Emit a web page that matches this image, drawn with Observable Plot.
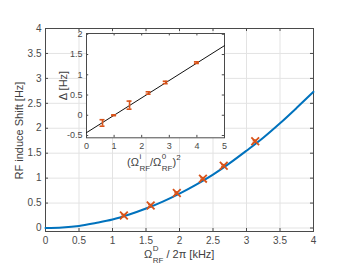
<!DOCTYPE html>
<html><head><meta charset="utf-8">
<script src="https://cdn.jsdelivr.net/npm/d3@7"></script>
<script src="https://cdn.jsdelivr.net/npm/@observablehq/plot@0.6"></script>
<style>
body{margin:0;background:#fff;font-family:"Liberation Sans",Arial,sans-serif;}
#wrap{position:relative;width:354px;height:267px;overflow:hidden;}
#wrap svg{position:absolute;}
.lab{position:absolute;color:#404040;font-size:11px;white-space:nowrap;line-height:1;}
.ss{display:inline-flex;flex-direction:column;vertical-align:middle;font-size:8px;line-height:12px;margin-left:0.5px;}
</style></head>
<body><div id="wrap"></div>
<script>
// Main plot: measured points
const mainX = [1.17, 1.57, 1.96, 2.35, 2.66, 3.13];
const mainY = [0.25, 0.45, 0.70, 0.99, 1.25, 1.74];
const mainErr = [0.02, 0.02, 0.02, 0.02, 0.02, 0.02];
// Main plot: fit curve
const fitX = [0, 0.25, 0.5, 0.75, 1, 1.25, 1.5, 1.75, 2, 2.25, 2.5, 2.75, 3, 3.25, 3.5, 3.75, 4];
const fitY = [0, 0.01, 0.04, 0.1, 0.17, 0.27, 0.39, 0.53, 0.69, 0.87, 1.07, 1.3, 1.55, 1.81, 2.1, 2.41, 2.73];
const mainXTicks = [0, 0.5, 1, 1.5, 2, 2.5, 3, 3.5, 4];
const mainYTicks = [0, 0.5, 1, 1.5, 2, 2.5, 3, 3.5, 4];
// Inset
const insX = [0.58, 1.0, 1.56, 2.25, 2.87, 4.0];
const insY = [-0.19, 0.0, 0.25, 0.55, 0.81, 1.30];
const insErr = [0.08, 0.01, 0.1, 0.03, 0.03, 0.02];
const lineX = [0, 5];
const lineY = [-0.43, 1.72];
const insXTicks = [0, 1, 2, 3, 4, 5];
const insYTicks = [-0.5, 0, 0.5, 1, 1.5, 2];

const orange = "#D95319", blue = "#0072BD", axisC = "#4a4a4a", gridC = "#e3e3e3";
const fmt = d => String(d);

const pts = mainX.map((x, i) => ({x, y: mainY[i], e: mainErr[i]}));
const fit = fitX.map((x, i) => ({x, y: fitY[i]}));
const ipts = insX.map((x, i) => ({x, y: insY[i], e: insErr[i]}));
const line = lineX.map((x, i) => ({x, y: lineY[i]}));

const yMin = -0.07, yMax = 4;
const main = Plot.plot({
  width: 354, height: 267,
  marginLeft: 45, marginRight: 41, marginTop: 28, marginBottom: 36,
  style: {background: "transparent", fontFamily: "Liberation Sans, Arial, sans-serif", fontSize: "10px", color: axisC},
  x: {domain: [0, 4], ticks: mainXTicks, tickFormat: fmt},
  y: {domain: [yMin, yMax], ticks: mainYTicks, tickFormat: fmt},
  marks: [
    Plot.ruleX(mainXTicks, {stroke: gridC, strokeWidth: 1}),
    Plot.ruleY(mainYTicks, {stroke: gridC, strokeWidth: 1}),
    Plot.axisX({ticks: mainXTicks, tickSize: 0, tickPadding: 5, label: null, tickFormat: fmt}),
    Plot.axisY({ticks: mainYTicks, tickSize: 0, tickPadding: 4, label: null, tickFormat: fmt}),
    Plot.ruleX(mainXTicks, {y1: yMin, y2: yMin + 0.06, stroke: axisC}),
    Plot.ruleX(mainXTicks, {y1: yMax, y2: yMax - 0.06, stroke: axisC}),
    Plot.ruleY(mainYTicks, {x1: 0, x2: 0.045, stroke: axisC}),
    Plot.ruleY(mainYTicks, {x1: 4, x2: 4 - 0.045, stroke: axisC}),
    Plot.frame({stroke: axisC, strokeWidth: 1}),
    Plot.line(fit, {x: "x", y: "y", stroke: blue, strokeWidth: 2, curve: "catmull-rom"}),
    Plot.ruleX(pts, {x: "x", y1: d => d.y - d.e, y2: d => d.y + d.e, stroke: orange, strokeWidth: 1.5}),
    Plot.ruleY(pts, {y: d => d.y - d.e, x1: d => d.x - 0.03, x2: d => d.x + 0.03, stroke: orange, strokeWidth: 1.5}),
    Plot.ruleY(pts, {y: d => d.y + d.e, x1: d => d.x - 0.03, x2: d => d.x + 0.03, stroke: orange, strokeWidth: 1.5}),
    Plot.dot(pts, {x: "x", y: "y", symbol: "times", r: 3.6, stroke: orange, strokeWidth: 1.8})
  ]
});
main.style.left = "0px"; main.style.top = "0px";

const iyMin = -0.557, iyMax = 2.02;
const inset = Plot.plot({
  width: 174, height: 126,
  marginLeft: 30, marginRight: 6, marginTop: 5, marginBottom: 16.7,
  style: {background: "transparent", fontFamily: "Liberation Sans, Arial, sans-serif", fontSize: "9px", color: axisC},
  x: {domain: [0, 5], ticks: insXTicks, tickFormat: fmt},
  y: {domain: [iyMin, iyMax], ticks: insYTicks, tickFormat: fmt},
  marks: [
    Plot.frame({fill: "white"}),
    Plot.axisX({ticks: insXTicks, tickSize: 0, tickPadding: 5, label: null, tickFormat: fmt}),
    Plot.axisY({ticks: insYTicks, tickSize: 0, tickPadding: 4, label: null, tickFormat: fmt}),
    Plot.ruleX(insXTicks, {y1: iyMin, y2: iyMin + 0.06, stroke: axisC}),
    Plot.ruleX(insXTicks, {y1: iyMax, y2: iyMax - 0.06, stroke: axisC}),
    Plot.ruleY(insYTicks, {x1: 0, x2: 0.08, stroke: axisC}),
    Plot.ruleY(insYTicks, {x1: 5, x2: 5 - 0.08, stroke: axisC}),
    Plot.frame({stroke: axisC, strokeWidth: 1}),
    Plot.line(line, {x: "x", y: "y", stroke: "#111", strokeWidth: 1}),
    Plot.ruleX(ipts, {x: "x", y1: d => d.y - d.e, y2: d => d.y + d.e, stroke: orange, strokeWidth: 1.6}),
    Plot.ruleY(ipts, {y: d => d.y - d.e, x1: d => d.x - 0.09, x2: d => d.x + 0.09, stroke: orange, strokeWidth: 1.6}),
    Plot.ruleY(ipts, {y: d => d.y + d.e, x1: d => d.x - 0.09, x2: d => d.x + 0.09, stroke: orange, strokeWidth: 1.6})
  ]
});
inset.style.left = "56px"; inset.style.top = "28px";

const wrap = document.getElementById("wrap");
wrap.appendChild(main);
wrap.appendChild(inset);

function addLabel(html, cx, cy, rot) {
  const d = document.createElement("div");
  d.className = "lab";
  d.innerHTML = html;
  wrap.appendChild(d);
  const w = d.offsetWidth, h = d.offsetHeight;
  d.style.left = (cx - w / 2) + "px";
  d.style.top = (cy - h / 2) + "px";
  if (rot) d.style.transform = "rotate(" + rot + "deg)";
}
addLabel("RF induce Shift [Hz]", 20, 130, -90);
addLabel("Ω<span class='ss'><span>D</span><span>RF</span></span> / 2π [kHz]", 179, 255, 0);
addLabel("Δ [Hz]", 63, 85, -90);
addLabel("(Ω<span class='ss'><span>i</span><span>RF</span></span>/Ω<span class='ss'><span>0</span><span>RF</span></span>)<sup style='font-size:8px;vertical-align:6px'>2</sup>", 154, 163, 0);
</script></body></html>
